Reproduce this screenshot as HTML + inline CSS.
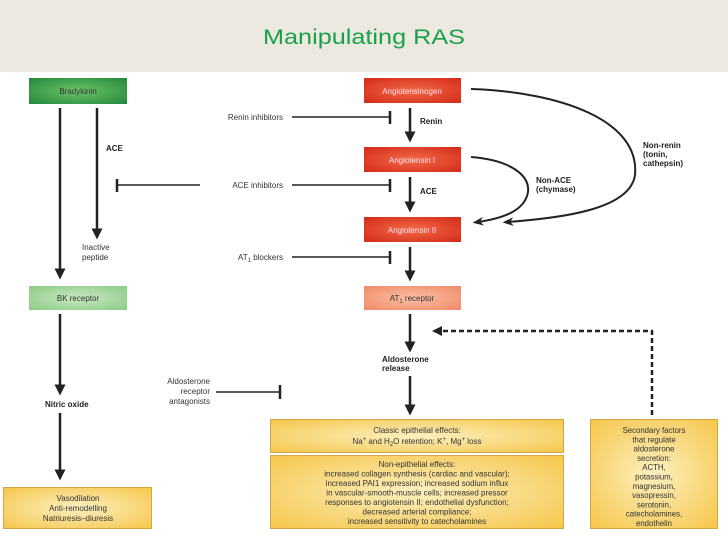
<!DOCTYPE html>
<html><head><meta charset="utf-8"><style>
html,body{margin:0;padding:0;background:#fff;width:728px;height:546px;overflow:hidden}
svg{display:block}
text{font-family:"Liberation Sans",sans-serif}
</style></head><body>
<svg width="728" height="546" viewBox="0 0 728 546" xmlns="http://www.w3.org/2000/svg">
<defs>
<radialGradient id="g" cx="50%" cy="50%" r="70%"><stop offset="0" stop-color="#6cc46a"/><stop offset="1" stop-color="#23883a"/></radialGradient>
<radialGradient id="lg" cx="50%" cy="50%" r="70%"><stop offset="0" stop-color="#c8e8c0"/><stop offset="1" stop-color="#8ccb86"/></radialGradient>
<radialGradient id="r" cx="50%" cy="50%" r="70%"><stop offset="0" stop-color="#f26a45"/><stop offset="1" stop-color="#d42a1a"/></radialGradient>
<radialGradient id="s" cx="50%" cy="50%" r="70%"><stop offset="0" stop-color="#fbc0a4"/><stop offset="1" stop-color="#ee8a68"/></radialGradient>
<radialGradient id="y" cx="50%" cy="50%" r="70%"><stop offset="0" stop-color="#fdf0c0"/><stop offset="1" stop-color="#f5c64a"/></radialGradient>
<marker id="a" viewBox="0 0 10 10" refX="5" refY="5" markerWidth="4.4" markerHeight="4.4" orient="auto"><path d="M0,0 L10,5 L0,10 z" fill="#222"/></marker>
<marker id="a2" viewBox="0 0 10 10" refX="5" refY="5" markerWidth="5.5" markerHeight="5.5" orient="auto"><path d="M0,1 L10,5 L0,9 L3,5 z" fill="#222"/></marker>
</defs>
<rect x="0" y="0" width="728" height="72" fill="#ece9e1"/>
<text x="364" y="44" font-size="21" fill="#1aa04a" text-anchor="middle" textLength="202" lengthAdjust="spacingAndGlyphs">Manipulating RAS</text>

<g font-size="8" text-anchor="middle" fill="#333">
<rect x="29" y="78" width="98" height="26" fill="url(#g)"/><text x="78" y="94">Bradykinin</text>
<rect x="29" y="286" width="98" height="24" fill="url(#lg)"/><text x="78" y="301">BK receptor</text>
<rect x="364" y="78" width="97" height="25" fill="url(#r)"/><text x="412" y="94" fill="#fde">Angiotensinogen</text>
<rect x="364" y="147" width="97" height="25" fill="url(#r)"/><text x="412" y="163" fill="#fde">Angiotensin I</text>
<rect x="364" y="217" width="97" height="25" fill="url(#r)"/><text x="412" y="233" fill="#fde">Angiotensin II</text>
<rect x="364" y="286" width="97" height="24" fill="url(#s)"/><text x="412" y="301">AT<tspan font-size="6" dy="2">1</tspan><tspan dy="-2"> receptor</tspan></text>

<rect x="3.5" y="487.5" width="148" height="41" fill="url(#y)" stroke="#d4a640"/>
<text x="78" y="501">Vasodilation</text><text x="78" y="511">Anti-remodelling</text><text x="78" y="521">Natriuresis–diuresis</text>

<rect x="270.5" y="419.5" width="293" height="33" fill="url(#y)" stroke="#d4a640"/>
<text x="417" y="433">Classic epithelial effects:</text>
<text x="417" y="444">Na<tspan font-size="6" dy="-3">+</tspan><tspan dy="3"> and H</tspan><tspan font-size="6" dy="2">2</tspan><tspan dy="-2">O retention; K</tspan><tspan font-size="6" dy="-3">+</tspan><tspan dy="3">, Mg</tspan><tspan font-size="6" dy="-3">+</tspan><tspan dy="3"> loss</tspan></text>
<rect x="270.5" y="455.5" width="293" height="73" fill="url(#y)" stroke="#d4a640"/>
<text x="417" y="467">Non-epithelial effects:</text>
<text x="417" y="476.5">increased collagen synthesis (cardiac and vascular);</text>
<text x="417" y="486">increased PAI1 expression; increased sodium influx</text>
<text x="417" y="495.5">in vascular-smooth-muscle cells; increased pressor</text>
<text x="417" y="505">responses to angiotensin II; endothelial dysfunction;</text>
<text x="417" y="514.5">decreased arterial compliance;</text>
<text x="417" y="524">increased sensitivity to catecholamines</text>

<rect x="590.5" y="419.5" width="127" height="109" fill="url(#y)" stroke="#d4a640"/>
<g font-size="7.8">
<text x="654" y="433">Secondary factors</text><text x="654" y="442.3">that regulate</text><text x="654" y="451.6">aldosterone</text><text x="654" y="460.9">secretion:</text><text x="654" y="470.2">ACTH,</text><text x="654" y="479.5">potassium,</text><text x="654" y="488.8">magnesium,</text><text x="654" y="498.1">vasopressin,</text><text x="654" y="507.4">serotonin,</text><text x="654" y="516.7">catecholamines,</text><text x="654" y="526">endothelin</text>
</g>
</g>

<g stroke="#222" stroke-width="2.5" fill="none">
<line x1="60" y1="108" x2="60" y2="274" marker-end="url(#a)"/>
<line x1="97" y1="108" x2="97" y2="234" marker-end="url(#a)"/>
<line x1="60" y1="314" x2="60" y2="390" marker-end="url(#a)"/>
<line x1="60" y1="413" x2="60" y2="475" marker-end="url(#a)"/>
<line x1="410" y1="108" x2="410" y2="137" marker-end="url(#a)"/>
<line x1="410" y1="177" x2="410" y2="207" marker-end="url(#a)"/>
<line x1="410" y1="247" x2="410" y2="276" marker-end="url(#a)"/>
<line x1="410" y1="314" x2="410" y2="347" marker-end="url(#a)"/>
<line x1="410" y1="376" x2="410" y2="410" marker-end="url(#a)"/>
</g>
<g stroke="#222" stroke-width="1.6" fill="none">
<line x1="292" y1="117" x2="390" y2="117"/><line x1="390" y1="111" x2="390" y2="124" stroke-width="2.5"/>
<line x1="292" y1="185" x2="390" y2="185"/><line x1="390" y1="179" x2="390" y2="192" stroke-width="2.5"/>
<line x1="117" y1="185" x2="200" y2="185"/><line x1="117" y1="179" x2="117" y2="192" stroke-width="2.5"/>
<line x1="292" y1="257" x2="390" y2="257"/><line x1="390" y1="251" x2="390" y2="264" stroke-width="2.5"/>
<line x1="216" y1="392" x2="280" y2="392"/><line x1="280" y1="385" x2="280" y2="399" stroke-width="2.5"/>
<path d="M471,89 C560,92 640,120 635,175 C630,210 560,218 508,222" marker-end="url(#a2)" stroke-width="2"/>
<path d="M471,157 C510,160 530,175 528,192 C525,210 505,218 478,222" marker-end="url(#a2)" stroke-width="2"/>
<path d="M652,415 L652,331 L440,331" stroke-dasharray="5,3" stroke-width="2.5"/>
</g>
<path d="M432,331 L442,326 L442,336 z" fill="#222"/>

<g font-size="8" fill="#333">
<text x="283" y="120" text-anchor="end">Renin inhibitors</text>
<text x="283" y="188" text-anchor="end">ACE inhibitors</text>
<text x="283" y="260" text-anchor="end">AT<tspan font-size="6" dy="2">1</tspan><tspan dy="-2"> blockers</tspan></text>
<text x="82" y="250">Inactive</text><text x="82" y="260">peptide</text>
<text x="210" y="384" text-anchor="end">Aldosterone</text><text x="210" y="394" text-anchor="end">receptor</text><text x="210" y="404" text-anchor="end">antagonists</text>
</g>
<g font-size="8" font-weight="bold" fill="#222">
<text x="106" y="151">ACE</text>
<text x="420" y="124">Renin</text>
<text x="420" y="194">ACE</text>
<text x="536" y="183">Non-ACE</text><text x="536" y="192">(chymase)</text>
<text x="643" y="148">Non-renin</text><text x="643" y="157">(tonin,</text><text x="643" y="166">cathepsin)</text>
<text x="382" y="362">Aldosterone</text><text x="382" y="371">release</text>
<text x="45" y="407">Nitric oxide</text>
</g>
</svg>
</body></html>
